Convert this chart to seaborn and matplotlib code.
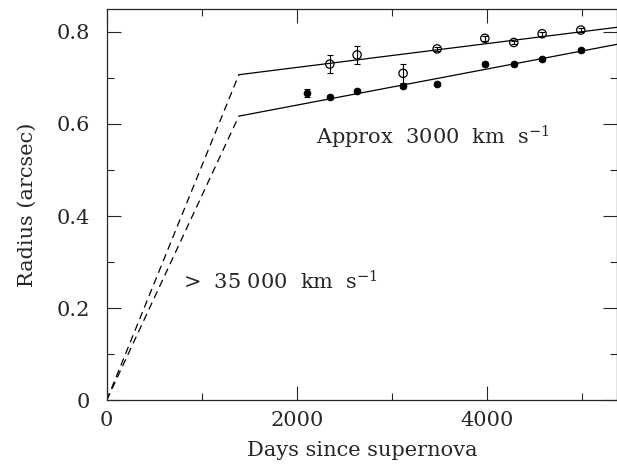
import numpy as np
import pandas as pd
import seaborn as sns
import matplotlib.pyplot as plt
from matplotlib.ticker import MultipleLocator, FuncFormatter

# outer ring (open circles)
open_days = [2347, 2635, 3119, 3477, 3979, 4284, 4582, 4989]
open_radius = [0.730, 0.750, 0.710, 0.763, 0.786, 0.777, 0.796, 0.804]
open_err = [0.020, 0.020, 0.020, 0.005, 0.006, 0.004, 0.004, 0.005]

# inner ring (filled circles)
filled_days = [2112, 2347, 2635, 3119, 3477, 3979, 4284, 4582, 4989]
filled_radius = [0.667, 0.659, 0.671, 0.683, 0.687, 0.730, 0.730, 0.741, 0.761]
filled_err = [0.008, 0.004, 0.004, 0.004, 0.004, 0.004, 0.004, 0.004, 0.004]

# fitted expansion: fast phase (dashed) then slow phase (solid)
upper_fast_x = [0, 1390]
upper_fast_y = [0.0, 0.707]
upper_slow_x = [1390, 5370]
upper_slow_y = [0.707, 0.810]
lower_fast_x = [0, 1390]
lower_fast_y = [0.0, 0.617]
lower_slow_x = [1390, 5370]
lower_slow_y = [0.617, 0.773]

sns.set_style("ticks")
plt.rcParams['font.family'] = ['DejaVu Serif']
plt.rcParams['mathtext.fontset'] = 'dejavuserif'

fig = plt.figure(figsize=(6.17, 4.68), dpi=100)
ax = fig.add_axes([0.173, 0.145, 0.827, 0.836])

for xs, ys, style in [(upper_fast_x, upper_fast_y, (0, (6, 4))), (lower_fast_x, lower_fast_y, (0, (6, 4))),
                      (upper_slow_x, upper_slow_y, '-'), (lower_slow_x, lower_slow_y, '-')]:
    sns.lineplot(x=xs, y=ys, ax=ax, color='black', lw=0.9, linestyle=style)

ax.errorbar(open_days, open_radius, yerr=open_err, fmt='none', ecolor='black',
            elinewidth=0.8, capsize=2, capthick=0.8)
ax.errorbar(filled_days, filled_radius, yerr=filled_err, fmt='none', ecolor='black',
            elinewidth=0.8, capsize=2, capthick=0.8)
sns.scatterplot(x=open_days, y=open_radius, ax=ax, marker='o', s=36,
                facecolor='none', edgecolor='black', linewidth=0.9, zorder=3)
sns.scatterplot(x=filled_days, y=filled_radius, ax=ax, marker='o', s=26,
                color='black', edgecolor='black', zorder=3)

ax.text(2200, 0.555, r'Approx  3000  km  s$^{-1}$', fontsize=15)
ax.text(800, 0.24, r'>  35 000  km  s$^{-1}$', fontsize=15)

ax.set_xlim(0, 5370)
ax.set_ylim(0, 0.85)
ax.xaxis.set_major_locator(MultipleLocator(2000))
ax.xaxis.set_minor_locator(MultipleLocator(1000))
ax.yaxis.set_major_locator(MultipleLocator(0.2))
ax.yaxis.set_minor_locator(MultipleLocator(0.1))
ax.yaxis.set_major_formatter(FuncFormatter(lambda v, p: '0' if abs(v) < 1e-9 else f'{v:.1f}'))
ax.tick_params(which='both', direction='in', top=True, right=True, labelsize=15)
ax.tick_params(axis='y', pad=12)
ax.tick_params(axis='x', pad=8)
ax.tick_params(which='major', length=10, width=0.8)
ax.tick_params(which='minor', length=5, width=0.8)
for s in ax.spines.values():
    s.set_linewidth(0.9)

ax.set_xlabel('Days since supernova', fontsize=15, labelpad=8)
ax.set_ylabel('Radius (arcsec)', fontsize=15, labelpad=14)

fig.savefig('out.png', dpi=100)
